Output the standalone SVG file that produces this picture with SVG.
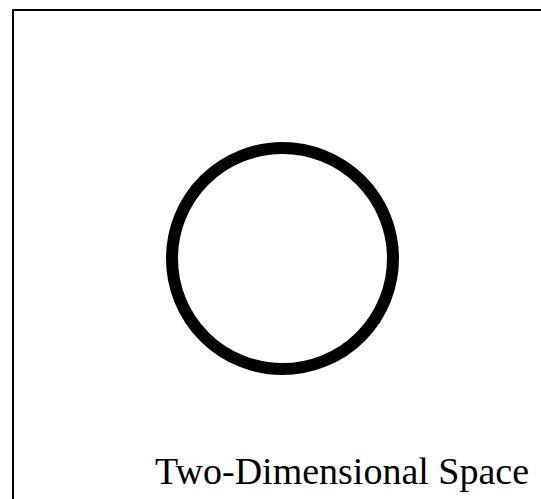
<svg xmlns="http://www.w3.org/2000/svg" width="541" height="499" viewBox="0 0 541 499">
<style>
.frame{fill:none;stroke:#000;stroke-width:2}
.shape{fill:none;stroke:#000;stroke-width:12}
.label{font-family:"Liberation Serif","Times New Roman",serif;font-size:38px;fill:#000}
</style>
<rect x="0" y="0" width="541" height="499" fill="#fff"/>
<g id="frame"><path class="frame" d="M13,499 V10 H541"/></g>
<g id="circle"><circle class="shape" cx="282.5" cy="258.5" r="110.5"/></g>
<g id="connectors"></g>
<g id="caption"><text class="label" x="155" y="484">Two-Dimensional Space</text></g>
</svg>
